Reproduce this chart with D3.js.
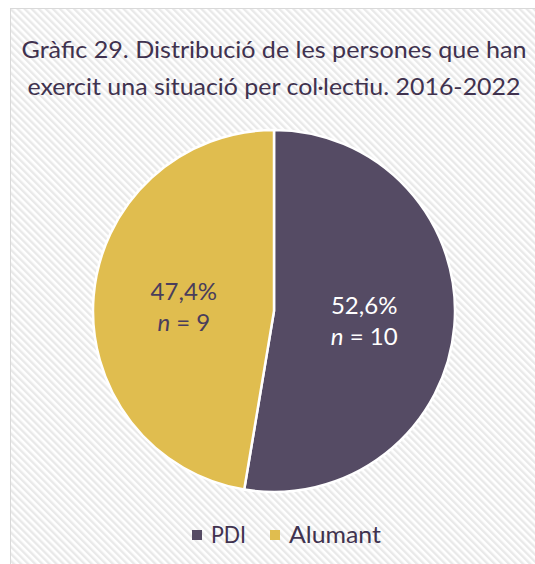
<!DOCTYPE html>
<html><head><meta charset="utf-8">
<script src="https://cdn.jsdelivr.net/npm/d3@7"></script>
<style>html,body{margin:0;padding:0;background:#fff;}svg{display:block;}</style>
</head><body>
<script>
const categories = ["PDI", "Alumant"];
const values = [10, 9];
const percentLabels = ["52,6%", "47,4%"];
const colors = ["#554b64", "#e0bd4f"];
const titleLines = ["Gràfic 29. Distribució de les persones que han", "exercit una situació per col·lectiu. 2016-2022"];

const W = 535, H = 564;
const svg = d3.select("body").append("svg").attr("width", W).attr("height", H);
const defs = svg.append("defs");
const pat = defs.append("pattern").attr("id", "stripes").attr("patternUnits", "userSpaceOnUse")
  .attr("width", 5).attr("height", 5).attr("patternTransform", "rotate(-45)");
pat.append("rect").attr("width", 5).attr("height", 5).attr("fill", "#ffffff");
pat.append("rect").attr("width", 2.4).attr("height", 5).attr("fill", "#e9e9e9");

svg.append("rect").attr("x", 10.5).attr("y", 8.5).attr("width", W).attr("height", H)
  .attr("fill", "url(#stripes)").attr("stroke", "#d9d9d9").attr("stroke-width", 1);

const font = "Lato, 'Open Sans', sans-serif";
const tColor = "#40324f";
svg.selectAll("text.title").data(titleLines).join("text").attr("class", "title")
  .attr("x", 274).attr("y", (d, i) => 58 + i * 37).attr("text-anchor", "middle")
  .attr("font-family", font).attr("font-size", 24).attr("fill", tColor)
  .attr("textLength", (d, i) => i === 0 ? 505 : 493).attr("lengthAdjust", "spacingAndGlyphs")
  .text(d => d);

const cx = 274, cy = 311, r = 181;
const pie = d3.pie().sort(null).value(d => d);
const arcs = pie(values);
const arc = d3.arc().innerRadius(0).outerRadius(r);
const g = svg.append("g").attr("transform", `translate(${cx},${cy})`);
g.selectAll("path").data(arcs).join("path").attr("d", arc)
  .attr("fill", (d, i) => colors[i]).attr("stroke", "#fff").attr("stroke-width", 2.5);

const labelArc = d3.arc().innerRadius(r * 0.5).outerRadius(r * 0.5);
const labelColors = ["#ffffff", "#4a3d5c"];
arcs.forEach((a, i) => {
  const [lx, ly] = labelArc.centroid(a);
  const t = g.append("text").attr("text-anchor", "middle").attr("font-family", font)
    .attr("font-size", 24).attr("fill", labelColors[i]);
  t.append("tspan").attr("x", lx).attr("y", ly - 4).text(percentLabels[i]);
  const t2 = t.append("tspan").attr("x", lx).attr("y", ly + 27);
  t2.append("tspan").attr("font-style", "italic").text("n");
  t2.append("tspan").text(" = " + values[i]);
});

const legX = [192, 270];
const leg = svg.append("g");
categories.forEach((c, i) => {
  leg.append("rect").attr("x", legX[i]).attr("y", 530).attr("width", 10).attr("height", 10).attr("fill", colors[i]);
  leg.append("text").attr("x", legX[i] + 19).attr("y", 543).attr("font-family", font)
    .attr("font-size", 24).attr("fill", tColor)
    .attr("textLength", i === 0 ? 35 : 92).attr("lengthAdjust", "spacingAndGlyphs").text(c);
});
</script>
</body></html>
